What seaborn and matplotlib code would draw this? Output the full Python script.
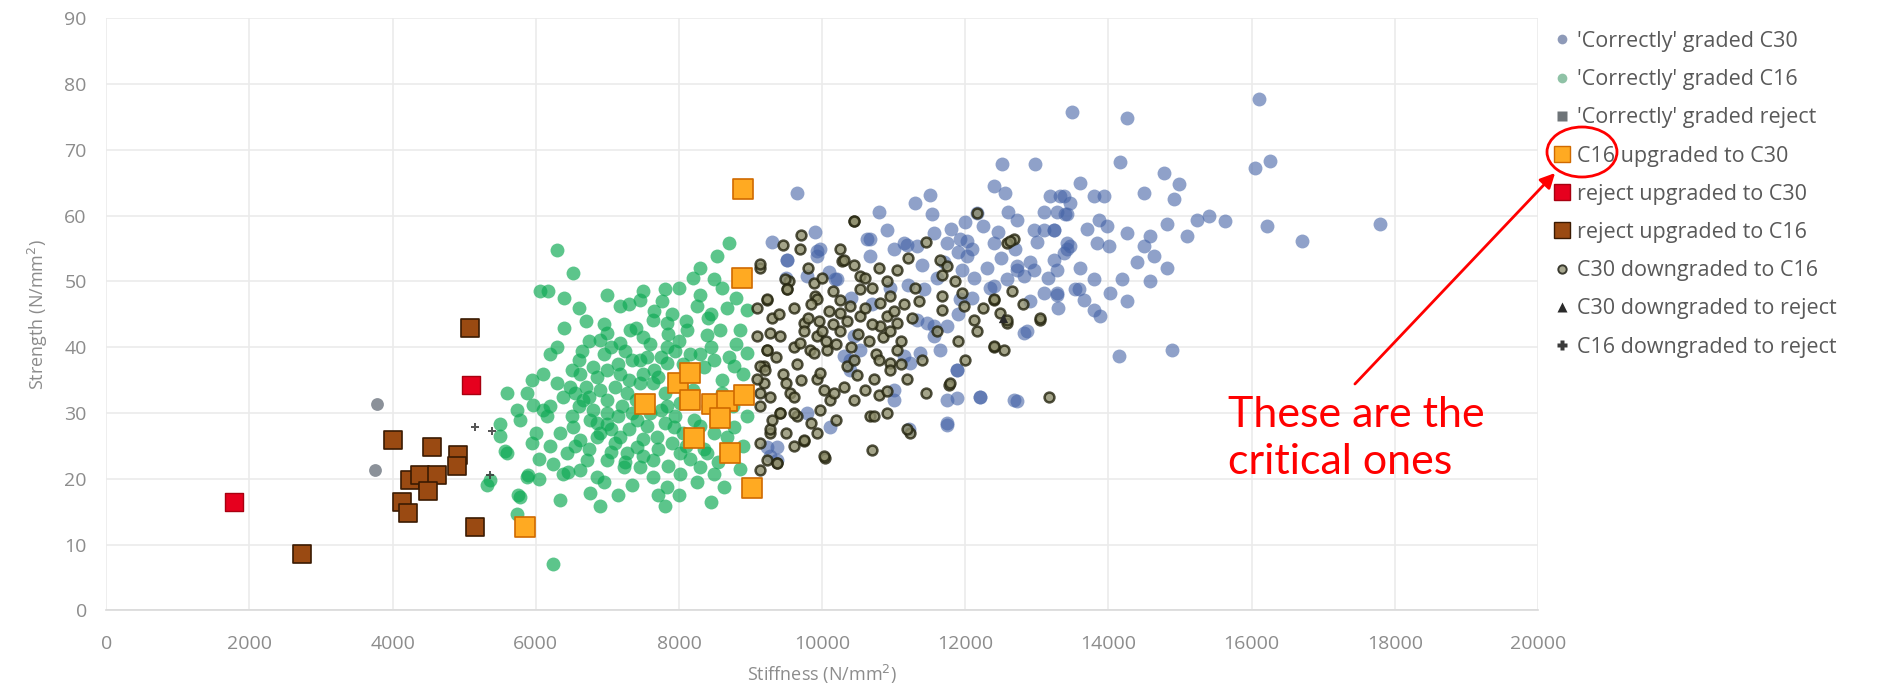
import matplotlib
matplotlib.use("Agg")
import matplotlib.pyplot as plt
from matplotlib.lines import Line2D
from matplotlib.patches import Ellipse
import seaborn as sns
import pandas as pd

# ---- timber grading results: stiffness (N/mm2) vs strength (N/mm2) ----
c30_x = [13491, 14260, 16100, 14166, 14772, 14982, 14912, 16053, 16263, 13607, 13328, 13468,
         13794, 13933, 13281, 13421, 13235, 13864, 13980, 14260, 14819, 14586, 15098, 15238,
         15401, 15634, 16216, 16705, 14493, 14633, 14819, 13374, 13468, 13840, 14003, 13281,
         13584, 13654, 13281, 13794, 14027, 14190, 14260, 14586, 13887, 14143, 14889, 17800,
         9647, 12513, 12979, 12396, 12559, 13188, 13375, 13398, 11511, 11534, 12163, 12722,
         13095, 13235, 13421, 13538, 13235, 12955, 12722, 12816, 12583, 12396, 12024, 11930,
         11744, 11325, 11138, 10999, 10673, 10673, 9974, 9927, 9508, 10183, 9787, 11418,
         11465, 11325, 11558, 11744, 11884, 11651, 11232, 11138, 10999, 10999, 10533, 10440,
         10300, 10393, 11744, 11884, 12210, 12722, 12862, 13281, 12117, 11954, 9368, 9275,
         9787, 10113, 9508, 9927, 10207, 10626, 10906, 11185, 11558, 12024, 12396, 12955,
         13421, 13794, 13095, 12816, 12723, 11931, 11558, 11372, 11884, 12210, 12676, 11744,
         11744, 11208, 10393, 9368, 9229,
         11700, 11900, 12100, 12300, 12500, 12700, 12900, 13000, 13150, 12450, 12600, 12250,
         12000, 11800, 11600, 11400, 11200, 12900, 13300, 13600, 13700, 14400, 14500, 13100,
         12350, 12100, 11900, 10950, 10700, 10400, 10100, 9900, 9500, 9300, 10800, 11300]
c30_y = [75.7, 74.9, 77.7, 68.1, 66.5, 64.8, 62.5, 67.3, 68.3, 65.0, 63.0, 62.0,
         63.0, 63.0, 60.5, 60.2, 57.9, 59.4, 58.4, 57.4, 58.7, 56.9, 56.9, 59.4,
         59.9, 59.2, 58.4, 56.1, 55.4, 53.9, 52.1, 54.4, 55.4, 55.9, 55.4, 51.8,
         48.8, 47.2, 48.0, 50.3, 48.3, 50.3, 47.0, 50.0, 44.7, 38.6, 39.6, 58.7,
         63.5, 67.8, 67.8, 64.5, 63.5, 63.0, 63.0, 60.2, 63.2, 60.2, 60.4, 59.4,
         57.9, 57.9, 54.9, 48.8, 53.3, 51.8, 52.3, 50.8, 50.3, 49.3, 53.8, 56.4,
         55.9, 55.4, 55.9, 54.9, 56.4, 53.8, 54.9, 53.8, 53.3, 50.3, 50.8, 48.8,
         43.7, 44.2, 41.7, 43.2, 36.6, 39.6, 37.6, 38.6, 33.5, 32.0, 39.6, 41.7,
         38.6, 36.6, 28.2, 32.3, 32.5, 31.8, 42.4, 48.3, 50.5, 51.8, 24.9, 23.4,
         30.0, 27.9, 53.3, 54.6, 50.3, 56.4, 57.9, 55.6, 57.4, 56.1, 55.9, 57.9,
         55.9, 45.7, 48.3, 42.2, 51.8, 47.3, 43.2, 39.1, 36.6, 32.5, 32.0, 28.5,
         32.0, 27.5, 38.1, 22.9, 24.9,
         53.0, 54.5, 55.0, 52.0, 53.5, 55.0, 53.0, 56.0, 50.5, 57.5, 60.5, 58.5,
         59.0, 58.0, 50.5, 52.5, 49.5, 47.0, 46.0, 52.0, 58.0, 53.0, 63.5, 60.5,
         49.0, 47.5, 45.0, 49.0, 46.5, 47.5, 51.5, 57.5, 50.5, 56.0, 60.5, 62.0]

c16_x = [6293, 6526, 6060, 6176, 7504, 7807, 7178, 7458, 7761, 8250, 8483, 8693, 8530, 8297,
         8949, 8670, 6992, 7178, 6899, 7318, 7644, 7830, 8110, 8390, 8576, 8856, 7830, 8483,
         8763, 8949, 7458, 7178, 6619, 6852, 6479, 6386, 5873, 6199, 5967, 5734, 5780, 6153,
         6666, 6992, 7271, 7644, 7830, 8017, 7830, 7411, 6759, 6992, 6526, 6339, 6619, 6852,
         7178, 7411, 7691, 7924, 8203, 8483, 8763, 8949, 8670, 8390, 8017, 7644, 7271, 6992,
         6712, 6432, 6246, 6386, 6619, 6852, 7225, 7458, 7644, 8017, 8297, 8483, 7830, 8623,
         6759, 6899, 7807, 6339, 5780, 5873, 5594, 5500, 5734, 6246, 5361,
         6600, 6800, 7000, 7100, 7300, 7500, 7700, 6700, 6900, 7200, 7400, 7600, 7800, 7000,
         6800, 6600, 7300, 7500, 7100, 6900, 7700, 7900, 8100, 6500, 7600, 7400, 7900, 8300,
         8100, 6700, 6300, 6100, 6000, 6200, 8000, 8300, 8600, 8200, 7800, 8900, 8800, 8400,
         6400, 6950, 7250, 7550, 5571, 5896, 5757, 5315,
         6650, 6750, 6950, 7050, 7150, 7350, 7450, 7650, 7750, 7950, 8050, 8150, 8350, 8450,
         8700, 6550, 6750, 6850, 7050, 7150, 7350, 7550, 7750, 7950, 8050, 8300, 8400, 8600,
         8750, 6550, 6750, 7050, 7250, 7500, 7850, 8150, 8350, 8550, 6450, 6950, 7150, 7350,
         7700, 8000, 8250, 8450, 6050, 5950, 6100, 6300, 6500, 6200, 6400, 6600, 7000, 7300,
         7650, 8000, 8200, 8600, 8800, 7500, 7850, 8450, 6050, 5600, 5500, 5950, 8900, 8850]
c16_y = [54.8, 51.3, 48.5, 48.5, 48.5, 48.8, 46.2, 47.2, 47.0, 46.2, 50.3, 55.8, 53.8, 52.0,
         45.7, 45.9, 42.1, 40.6, 41.1, 42.6, 44.2, 43.7, 42.6, 41.9, 42.6, 42.6, 40.1, 38.1,
         37.1, 39.1, 38.1, 36.0, 36.0, 35.5, 34.0, 32.5, 33.0, 31.0, 31.2, 30.5, 29.0, 29.5,
         32.0, 32.0, 33.0, 34.5, 37.6, 31.5, 31.0, 29.0, 29.0, 28.4, 27.9, 26.9, 25.9, 26.4,
         26.4, 24.9, 26.4, 27.9, 29.0, 26.9, 27.9, 29.5, 26.4, 23.9, 23.9, 22.9, 23.9, 22.9,
         22.9, 23.9, 22.3, 20.8, 21.3, 20.3, 21.8, 21.8, 20.3, 20.8, 21.8, 20.8, 18.8, 18.8,
         17.8, 15.8, 15.8, 16.8, 17.3, 20.3, 23.9, 28.4, 14.7, 7.1, 19.8,
         38.0, 37.0, 36.5, 34.0, 35.0, 36.0, 35.5, 34.0, 33.5, 31.0, 32.0, 30.0, 28.5, 30.0,
         30.5, 31.0, 27.5, 26.0, 25.5, 27.0, 24.5, 25.5, 25.0, 29.5, 40.5, 43.0, 45.0, 48.0,
         44.0, 44.0, 40.0, 36.0, 27.0, 25.0, 41.0, 39.0, 35.0, 33.5, 33.0, 36.0, 40.5, 44.5,
         47.5, 39.0, 39.5, 38.5, 24.2, 20.6, 17.6, 19.1,
         39.5, 41.0, 43.5, 40.0, 37.5, 38.0, 34.5, 36.5, 38.5, 39.5, 37.5, 39.0, 37.0, 40.0,
         38.5, 33.0, 32.5, 28.5, 27.5, 29.5, 30.0, 28.0, 30.5, 29.5, 27.0, 28.0, 31.0, 33.0,
         31.0, 25.0, 24.5, 24.0, 22.5, 23.5, 22.0, 23.0, 24.5, 22.5, 21.0, 19.5, 17.5, 19.0,
         17.5, 17.5, 19.5, 16.5, 23.0, 25.5, 30.5, 34.5, 36.5, 39.0, 43.0, 46.0, 48.0, 46.5,
         45.5, 49.0, 50.5, 49.0, 47.5, 41.5, 42.0, 45.0, 20.0, 33.0, 26.5, 35.0, 25.0, 21.5]

reject_x = [3778, 3754]
reject_y = [31.4, 21.3]

c16_to_c30_x = [8900, 8879, 7993, 8157, 7528, 8157, 8460, 8670, 8902, 8576, 8203, 8716, 9019, 5850]
c16_to_c30_y = [64.0, 50.6, 34.6, 36.1, 31.3, 32.0, 31.3, 31.8, 32.8, 29.2, 26.2, 23.9, 18.6, 12.7]

rej_to_c30_x = [1780, 5100]
rej_to_c30_y = [16.5, 34.3]

rej_to_c16_x = [2729, 4010, 4555, 4918, 4896, 4243, 4383, 4616, 4500, 4127, 4220, 5152, 5082]
rej_to_c16_y = [8.6, 25.9, 24.8, 23.6, 21.9, 19.8, 20.5, 20.5, 18.1, 16.5, 14.8, 12.7, 42.9]

c30_to_c16_x = [10439, 10276, 9694, 9531, 9508, 9880, 9904, 10253, 10533, 10533, 10393, 10253,
                10533, 10812, 10952, 10905, 11045, 10812, 11045, 11651, 11674, 11674, 11674, 11954,
                11977, 12117, 12163, 12396, 12489, 12583, 12396, 12536, 12676, 12583, 12163, 13049,
                13165, 11767, 11185, 11045, 10952, 10952, 10789, 10719, 10486, 10346, 10067, 9927,
                9834, 9601, 9414, 9275, 9228, 9181, 9181, 9275, 9554, 9414, 9647, 9275, 9927, 10020,
                10113, 9974, 9927, 9741, 10044, 10696, 11231, 10672, 10905, 9368, 9135, 9228,
                9135, 9229, 9089, 9485, 9508, 9089, 9229, 9135, 9089, 9135, 9135, 9275, 9135, 9229,
                9135, 9368, 9415, 9601, 9601, 9694, 9741, 9881, 9927, 10300, 10440, 9974, 10160,
                10440, 10020, 9741, 10719, 10906, 11185, 12396, 12583, 12396, 13049, 12630, 11744,
                11791,
                9300, 9350, 9450, 9500, 9650, 9700, 9750, 9800, 9850, 9950, 10000, 10050, 10100,
                10150, 10200, 10250, 10350, 10400, 10450, 10500, 10600, 10650, 10700, 10750, 10850,
                10950, 11000, 11100, 11150, 11250, 11300, 11350, 10600, 10700, 10800, 10900, 10150,
                10000, 9800, 9600, 9400, 9200, 9300, 9500, 9600, 9850, 10200, 10300, 10600, 10800,
                11100, 11400, 11450, 11600, 11900, 12000, 12250, 12650, 12800, 10450, 10250, 11200,
                11450, 11850, 9450, 9700]
c30_to_c16_y = [59.2, 53.1, 54.9, 50.0, 48.8, 49.8, 47.8, 47.2, 50.8, 48.8, 46.2, 45.2,
                44.7, 46.7, 47.8, 44.7, 43.7, 43.2, 51.8, 53.3, 51.0, 47.8, 45.7, 48.3,
                46.2, 44.2, 42.4, 47.2, 45.2, 43.7, 40.1, 39.6, 56.4, 55.9, 60.4, 44.2,
                32.5, 34.3, 35.1, 39.6, 37.6, 36.6, 32.8, 35.1, 35.8, 37.1, 39.6, 41.7,
                39.6, 40.1, 41.7, 42.2, 39.6, 37.1, 34.6, 32.5, 33.1, 30.0, 29.5, 26.9, 35.1, 33.5,
                32.0, 30.5, 26.9, 25.7, 23.1, 24.4, 26.9, 29.5, 30.0, 22.4, 52.1, 47.2,
                52.6, 47.3, 46.0, 50.3, 48.8, 41.7, 39.6, 37.1, 35.1, 33.0, 31.0, 27.5, 25.4, 22.9,
                21.4, 22.4, 30.0, 30.0, 32.5, 40.7, 43.7, 39.1, 47.3, 53.3, 59.2, 36.1, 33.0,
                32.0, 23.4, 25.9, 29.5, 33.3, 27.5, 47.3, 44.2, 40.2, 44.5, 56.1, 52.3,
                34.6,
                44.5, 38.5, 36.0, 34.5, 37.5, 35.0, 42.5, 44.5, 46.5, 44.0, 42.5, 41.0, 45.5,
                43.5, 40.5, 42.5, 44.0, 40.0, 38.0, 42.0, 46.0, 41.0, 43.5, 39.0, 41.5,
                42.5, 45.5, 41.0, 46.5, 44.5, 49.0, 47.0, 50.5, 49.0, 52.0, 50.0, 48.5,
                50.5, 52.0, 46.0, 45.0, 36.5, 29.0, 27.0, 25.0, 28.5, 29.0, 34.0, 33.5, 38.0,
                37.5, 38.0, 33.0, 42.5, 41.0, 38.0, 46.0, 48.5, 46.5, 52.5, 55.0, 53.5,
                56.0, 50.0, 55.5, 57.0]

c30_to_rej_x = [12530]
c30_to_rej_y = [44.5]

c16_to_rej_x = [5152, 5385, 5362]
c16_to_rej_y = [27.9, 27.3, 20.6]

labels = ["'Correctly' graded C30", "'Correctly' graded C16", "'Correctly' graded reject",
          "C16 upgraded to C30", "reject upgraded to C30", "reject upgraded to C16",
          "C30 downgraded to C16", "C30 downgraded to reject", "C16 downgraded to reject"]

sns.set_theme(style="white")
plt.rcParams["font.family"] = ["Open Sans", "DejaVu Sans"]

fig = plt.figure(figsize=(18.95, 6.96), dpi=100)
ax = fig.add_axes([0.0561, 0.1231, 0.7555, 0.8505])

def frame(x, y):
    return pd.DataFrame({"stiffness": x, "strength": y})

# background populations first, then the regraded groups on top
sns.scatterplot(data=frame(c30_x, c30_y), x="stiffness", y="strength", ax=ax,
                color="#4463A6", alpha=0.6, s=100, linewidth=0, zorder=2)
sns.scatterplot(data=frame(c16_x, c16_y), x="stiffness", y="strength", ax=ax,
                color="#0FAA55", alpha=0.68, s=100, linewidth=0, zorder=2)
sns.scatterplot(data=frame(reject_x, reject_y), x="stiffness", y="strength", ax=ax,
                color="#6E7680", alpha=0.8, s=85, linewidth=0, zorder=3)
sns.scatterplot(data=frame(c30_to_c16_x, c30_to_c16_y), x="stiffness", y="strength", ax=ax,
                color="#8E8E6C", edgecolor="#24240E", linewidth=1.8, alpha=0.8, s=50, zorder=3)
sns.scatterplot(data=frame(c30_to_rej_x, c30_to_rej_y), x="stiffness", y="strength", ax=ax,
                marker="^", color="#2A2A2A", linewidth=0, s=45, zorder=4)
sns.scatterplot(data=frame(c16_to_rej_x, c16_to_rej_y), x="stiffness", y="strength", ax=ax,
                marker="P", color="#3A3A3A", linewidth=0, s=40, alpha=0.85, zorder=4)
sns.scatterplot(data=frame(rej_to_c16_x, rej_to_c16_y), x="stiffness", y="strength", ax=ax,
                marker="s", color="#9A4A12", edgecolor="#3A1A02", linewidth=1.2, s=160, zorder=5)
sns.scatterplot(data=frame(rej_to_c30_x, rej_to_c30_y), x="stiffness", y="strength", ax=ax,
                marker="s", color="#E6001E", edgecolor="#A80010", linewidth=1.0, s=180, zorder=5)
sns.scatterplot(data=frame(c16_to_c30_x, c16_to_c30_y), x="stiffness", y="strength", ax=ax,
                marker="s", color="#FFAA22", edgecolor="#D06A00", linewidth=1.2, s=200, zorder=6)

ax.set_xlim(0, 20000)
ax.set_ylim(0, 90)
ax.set_xticks(range(0, 20001, 2000))
ax.set_yticks(range(0, 91, 10))
ax.grid(True, color="#EBEBEB", linewidth=1.2, zorder=0)
ax.set_axisbelow(True)
for side in ["top", "right", "left"]:
    ax.spines[side].set_visible(False)
ax.spines["bottom"].set_color("#D9D9D9")
ax.spines["bottom"].set_linewidth(1.2)
ax.tick_params(axis="x", length=0, labelsize=14, labelcolor="#8C8C8C", pad=18)
ax.tick_params(axis="y", length=0, labelsize=14, labelcolor="#8C8C8C", pad=14)
ax.set_xlabel("Stiffness (N/mm$^2$)", fontsize=13, color="#8C8C8C", labelpad=7)
ax.set_ylabel("Strength (N/mm$^2$)", fontsize=13, color="#8C8C8C", labelpad=10)

handles = [
    Line2D([], [], ls="", marker="o", ms=7, mfc="#8E9AB8", mec="none"),
    Line2D([], [], ls="", marker="o", ms=7, mfc="#8FC2A6", mec="none"),
    Line2D([], [], ls="", marker="s", ms=7, mfc="#6E7478", mec="none"),
    Line2D([], [], ls="", marker="s", ms=11, mfc="#FFAA22", mec="#D06A00"),
    Line2D([], [], ls="", marker="s", ms=11, mfc="#E6001E", mec="#A80010"),
    Line2D([], [], ls="", marker="s", ms=11, mfc="#9A4A12", mec="#3A1A02"),
    Line2D([], [], ls="", marker="o", ms=6, mfc="#A8A890", mec="#3A3A30", mew=1.4),
    Line2D([], [], ls="", marker="^", ms=7, mfc="#2A2A2A", mec="none"),
    Line2D([], [], ls="", marker="P", ms=7, mfc="#3A3A3A", mec="none"),
]
fig.legend(handles, labels, loc="upper left", bbox_to_anchor=(0.815, 0.968), frameon=False,
           fontsize=15.5, labelcolor="#595959", handlelength=0.8, handletextpad=0.3,
           labelspacing=0.8, borderaxespad=0)

# callout pointing at the critical group in the key
fig.text(1228 / 1895, 1 - 474 / 696, "These are the\ncritical ones", color="#FF0000",
         fontsize=31, ha="left", va="baseline", linespacing=1.3,
         family=["Lato", "DejaVu Sans"])
fig.patches.append(Ellipse((1582 / 1895, 1 - 152 / 696), 70 / 1895, 50 / 696,
                           transform=fig.transFigure, fill=False, edgecolor="#FF0000",
                           linewidth=2))
ax.annotate("", xy=(1557 / 1895, 1 - 171 / 696), xytext=(1353 / 1895, 1 - 386 / 696),
            xycoords="figure fraction", textcoords="figure fraction",
            arrowprops=dict(arrowstyle="-|>", color="#FF0000", lw=2, mutation_scale=22),
            annotation_clip=False)

fig.savefig("out.png", dpi=100)
